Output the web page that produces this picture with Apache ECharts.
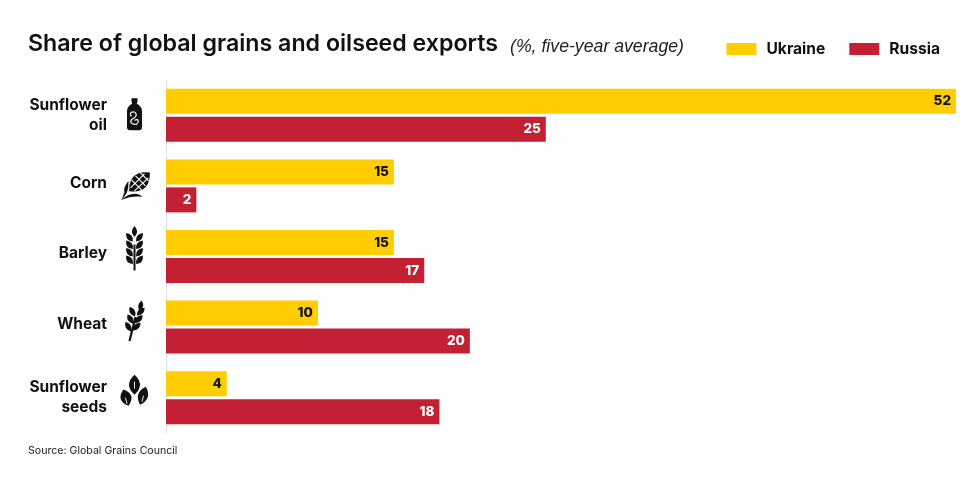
<!DOCTYPE html>
<html>
<head>
<meta charset="utf-8">
<style>html,body{margin:0;padding:0;background:#fff}#chart{width:980px;height:490px}</style>
<script src="https://cdn.jsdelivr.net/npm/echarts@6/dist/echarts.min.js"></script>
</head>
<body>
<div id="chart"></div>
<script>
var categories = ['Sunflower\noil', 'Corn', 'Barley', 'Wheat', 'Sunflower\nseeds'];
var ukraine = [52, 15, 15, 10, 4];
var russia = [25, 2, 17, 20, 18];
var iconDy = [-1, 0, -4, -4, -6];

// pointed leaf / seed shape, used by the icons
function leaf(cx, cy, len, wid, deg) {
	var a = deg * Math.PI / 180, dx = Math.cos(a), dy = Math.sin(a);
	var h = len / 2, w = wid;
	function p(u, v) { return (cx + u * dx - v * dy).toFixed(1) + ' ' + (cy + u * dy + v * dx).toFixed(1); }
	return 'M' + p(-h, 0) + 'Q' + p(0, -w) + ' ' + p(h, 0) + 'Q' + p(0, w) + ' ' + p(-h, 0) + 'Z';
}
function ear(n, step, len, wid, spread, tilt) {
	var d = leaf(tilt * n * step * 0.5, -n * step * 0.5 - len * 0.55, len, wid * 0.9, -90 + tilt * 20);
	for (var i = 0; i < n; i++) {
		var y = -i * step + (n - 1) * step * 0.5 - 2;
		var x = tilt * (i - (n - 1) / 2) * step * 0.5;
		d += leaf(x - spread, y - 2, len, wid, -90 - 38 + tilt * 15);
		d += leaf(x + spread, y - 2, len, wid, -90 + 38 + tilt * 15);
	}
	return d;
}
var iconParts = [
	[
		{ fill: '#111', d: 'M-3 -16H3V-12H2.5V-10.5C6 -8.5 7.5 -6 7.5 -3V13Q7.5 16 4.5 16H-4.5Q-7.5 16 -7.5 13V-3C-7.5 -6 -6 -8.5 -2.5 -10.5V-12H-3Z' },
		{ stroke: '#fff', width: 1.2, d: 'M2 10C-5 10 -5 6 -1 4C4 1 1 -4 -3 -2C-5 -1 -4 1 -3 2M0 6C4 4 5 7 2 10' }
	],
	[
		{ fill: '#111', d: leaf(5, -4, 28, 16, -42) },
		{ stroke: '#fff', width: 1.1, d: 'M-4 2L10 -12M0 5L14 -8M-3 -6L7 4M1 -10L11 0M6 -13L14 -5' },
		{ fill: '#111', d: 'M-13 14C-8 8 -6 6 -6 -5C-10 0 -11 3 -10 6C-11 9 -12 11 -13 14ZM-13 14C-6 7 3 6 8 11C1 10 -6 11 -13 14Z' }
	],
	[
		{ fill: '#111', d: ear(4, 7.5, 11, 5.5, 5, 0) },
		{ stroke: '#111', width: 2, d: 'M0 -8V18' }
	],
	[
		{ fill: '#111', d: ear(3, 7.5, 11, 5.5, 4.2, 0.55) },
		{ stroke: '#111', width: 2.2, d: 'M-5 18L1 -6' }
	],
	[
		{ fill: '#111', d: leaf(0, -7, 20, 11, -90) + leaf(-8.5, 6, 17, 11, -108) + leaf(8.5, 4, 19, 10, -72) },
		{ stroke: '#fff', width: 0.9, d: 'M0 -3V-10M-7.5 12L-9 6M7.5 10L9 4' }
	]
];

// icons sit beside the category labels, y comes from the axis
function renderIcon(params, api) {
	var i = api.value(1);
	return {
		type: 'group',
		x: 134.5,
		y: api.coord([0, i])[1] + iconDy[i],
		children: iconParts[i].map(function (part) {
			return {
				type: 'path',
				shape: { pathData: part.d },
				style: part.fill
					? { fill: part.fill }
					: { fill: 'none', stroke: part.stroke, lineWidth: part.width || 1 }
			};
		})
	};
}

var labelStyle = { fontFamily: 'Inter', fontSize: 15.5, fontWeight: 700, color: '#111' };

var chart = echarts.init(document.getElementById('chart'));
chart.setOption({
	animation: false,
	backgroundColor: '#fff',
	textStyle: { fontFamily: 'Inter' },
	title: [{
		text: 'Share of global grains and oilseed exports',
		left: 23, top: 28,
		textStyle: { fontFamily: 'Inter', fontSize: 23.2, fontWeight: 600, color: '#111' }
	}, {
		text: '(%, five-year average)',
		left: 505, top: 33,
		textStyle: { fontFamily: 'Liberation Sans', fontSize: 17.7, fontWeight: 400, fontStyle: 'italic', color: '#222' }
	}, {
		text: 'Source: Global Grains Council',
		left: 23, top: 440,
		textStyle: { fontFamily: 'Inter', fontSize: 10.6, fontWeight: 400, color: '#222' }
	}],
	legend: {
		right: 35, top: 36,
		icon: 'rect',
		itemWidth: 30, itemHeight: 12, itemGap: 24,
		selectedMode: false,
		textStyle: { fontFamily: 'Inter', fontSize: 15.6, fontWeight: 700, color: '#111', padding: [0, 0, 0, 5] },
		data: ['Ukraine', 'Russia']
	},
	grid: { left: 166, right: 24, top: 80, height: 353 },
	xAxis: { type: 'value', min: 0, max: 52, show: false },
	yAxis: {
		type: 'category',
		inverse: true,
		data: categories,
		axisLine: { lineStyle: { color: '#ddd', width: 1 } },
		axisTick: { show: false },
		axisLabel: {
			margin: 59,
			align: 'right',
			fontFamily: labelStyle.fontFamily, fontSize: labelStyle.fontSize, fontWeight: labelStyle.fontWeight, color: labelStyle.color,
			lineHeight: 20,
			// one-line labels sit a little higher than the two-line ones
			formatter: function (v) { return v.indexOf('\n') < 0 ? '{lift|' + v + '}' : v; },
			rich: {
				lift: { fontFamily: labelStyle.fontFamily, fontSize: labelStyle.fontSize, fontWeight: labelStyle.fontWeight, color: labelStyle.color, lineHeight: 20, padding: [0, 0, 6, 0] }
			}
		}
	},
	series: [{
		name: 'Ukraine',
		type: 'bar',
		data: ukraine,
		barWidth: 25,
		barGap: '12%',
		itemStyle: { color: '#FFCD00' },
		label: { show: true, position: 'insideRight', distance: 5, fontFamily: 'Inter', fontSize: 13.5, fontWeight: 800, color: '#111' }
	}, {
		name: 'Russia',
		type: 'bar',
		data: russia,
		barWidth: 25,
		itemStyle: { color: '#C32033' },
		label: { show: true, position: 'insideRight', distance: 5, fontFamily: 'Inter', fontSize: 13.5, fontWeight: 800, color: '#fff' }
	}, {
		name: 'icons',
		type: 'custom',
		clip: false,
		silent: true,
		renderItem: renderIcon,
		data: categories.map(function (c, i) { return [0, i]; })
	}]
});
</script>
</body>
</html>
